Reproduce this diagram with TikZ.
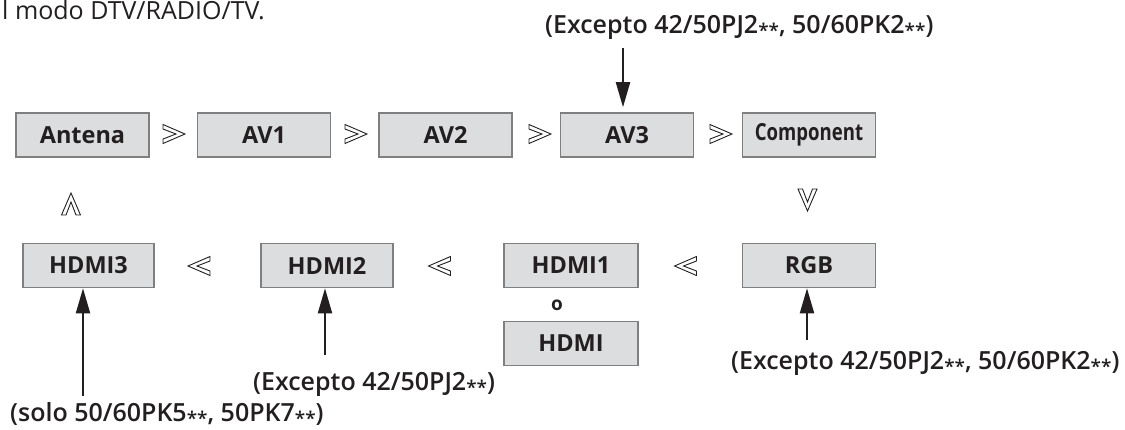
\documentclass[tikz,border=0pt]{standalone}
\usepackage{fontspec}
\usepackage{graphicx}
\setmainfont{Open Sans}
\IfFontExistsTF{Open Sans SemiBold}{\newfontfamily\lblfont{Open Sans SemiBold}}{%
  \IfFontExistsTF{Open Sans Semibold}{\newfontfamily\lblfont{Open Sans Semibold}}{%
    \def\lblfont{\bfseries}}}
\usetikzlibrary{arrows.meta}
\definecolor{boxfill}{HTML}{DCDDDF}
\definecolor{boxline}{HTML}{7F7F7F}
\definecolor{ink}{HTML}{231F20}
\newcommand{\stars}{{\fontsize{19}{19}\selectfont\raisebox{-4pt}{**}}}
\begin{document}
\begin{tikzpicture}[x=1pt,y=-1pt,
  box/.style={draw=boxline, line width=1.6pt, fill=boxfill, minimum width=133pt,
    minimum height=44pt, inner sep=0pt, text=ink,
    font=\fontsize{23.5}{27}\selectfont\bfseries},
  lbl/.style={anchor=base west, inner sep=0pt, text=ink,
    font=\fontsize{25}{29}\selectfont\lblfont},
  arr/.style={draw=ink, line width=2pt, -{Triangle[length=25pt,width=14pt]}},
  chev/.pic={\draw[line width=0.9pt, draw=ink, fill=white, line join=miter]
    (-11,-9.5) -- (11,0) -- (-11,9.5) -- (-11,5) -- (2,0) -- (-11,-5) -- cycle;}
]
\fill[white] (0,0) rectangle (1125,429);
\useasboundingbox (0,0) rectangle (1125,429);

\node[anchor=base west, inner sep=0pt, text=ink, font=\fontsize{25}{29}\selectfont]
  (intro) at (2,19) {l modo DTV/RADIO/TV.};

% row 1
\node[box] (ant) at (82.5,135) {Antena};
\node[box] (av1) at (264,135) {AV1};
\node[box] (av2) at (445.5,135) {AV2};
\node[box] (av3) at (627,135) {AV3};
\node[box] (comp) at (809,135) {\scalebox{0.79}[1]{Component}};

% row 2
\node[box, minimum width=131pt] (h3) at (88.5,265.5) {HDMI3};
\node[box, minimum width=132pt] (h2) at (327,265.5) {HDMI2};
\node[box, minimum width=134pt] (h1) at (571,265.5) {HDMI1};
\node[box] (rgb) at (809,265.5) {RGB};
\node[text=ink, inner sep=0pt, font=\fontsize{19}{22}\selectfont\bfseries] (or) at (557,305) {o};
\node[box, minimum width=134pt] (h) at (571,343.5) {HDMI};

% separators
\pic at (174,134) {chev};
\pic at (356,134) {chev};
\pic at (540,134) {chev};
\pic at (721,134) {chev};
\pic[rotate=-90] at (807.5,200) {chev};
\pic[rotate=90] at (71,204) {chev};
\pic[rotate=180] at (199,266) {chev};
\pic[rotate=180] at (439.5,266) {chev};
\pic[rotate=180] at (685.5,266) {chev};

% labels
\node[lbl] (ltop) at (545,33) {(Excepto 42/50PJ2\stars, 50/60PK2\stars)};
\node[lbl] (lrgb) at (731,369) {(Excepto 42/50PJ2\stars, 50/60PK2\stars)};
\node[lbl] (lh2) at (253,390) {(Excepto 42/50PJ2\stars)};
\node[lbl] (lh3) at (10,421) {(solo 50/60PK5\stars, 50PK7\stars)};

% arrows
\coordinate (a0) at (623,48);
\draw[arr, shorten >=5pt] (a0) -- (a0 |- av3.north);
\coordinate (t1) at (807,340);
\draw[arr] (t1) -- (t1 |- rgb.south);
\coordinate (t2) at (325,355);
\draw[arr] (t2) -- (t2 |- h2.south);
\coordinate (t3) at (83,396);
\draw[arr] (t3) -- (t3 |- h3.south);
\end{tikzpicture}
\end{document}
